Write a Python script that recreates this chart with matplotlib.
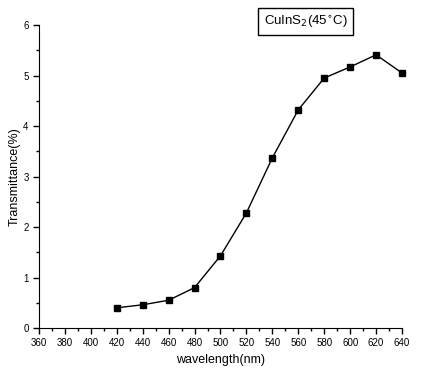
import matplotlib.pyplot as plt
from matplotlib.ticker import MultipleLocator

# Data
wavelength = [420, 440, 460, 480, 500, 520, 540, 560, 580, 600, 620, 640]
transmittance = [0.40, 0.46, 0.55, 0.80, 1.43, 2.28, 3.37, 4.32, 4.95, 5.17, 5.41, 5.05]

plt.rcParams['font.family'] = ['Liberation Sans', 'DejaVu Sans']

fig = plt.figure(figsize=[4.22, 3.75], dpi=100)
ax = fig.add_axes([0.0924, 0.1253, 0.8602, 0.808])

ax.plot(wavelength, transmittance, color='black', lw=1, marker='s', ms=4.8,
        clip_on=False)

ax.set_xlim(360, 640)
ax.set_ylim(0, 6)
ax.xaxis.set_major_locator(MultipleLocator(20))
ax.xaxis.set_minor_locator(MultipleLocator(10))
ax.yaxis.set_major_locator(MultipleLocator(1))
ax.yaxis.set_minor_locator(MultipleLocator(0.5))
ax.tick_params(which='both', direction='out', labelsize=7, width=1)
ax.tick_params(which='major', length=4)
ax.tick_params(which='minor', length=2.5)

for s in ['top', 'right']:
    ax.spines[s].set_visible(False)

ax.set_xlabel('wavelength(nm)', fontsize=9)
ax.set_ylabel('Transmittance(%)', fontsize=9, labelpad=2)

ax.text(0.734, 1.038, r'CuInS$_2$(45$^{\circ}$C)', transform=ax.transAxes,
        fontsize=9.5, ha='center', va='top',
        bbox=dict(boxstyle='square,pad=0.4', fc='white', ec='black', lw=1))

plt.savefig('out.png', dpi=100)
